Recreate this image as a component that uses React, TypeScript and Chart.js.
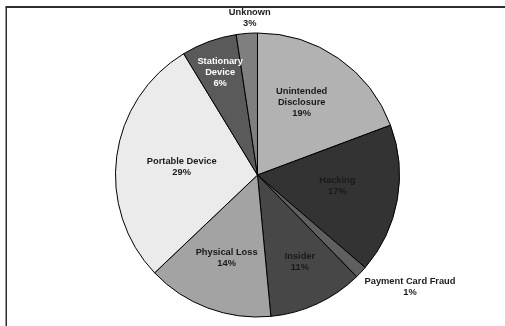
import React, { useEffect, useRef } from "react";
import { Chart, registerables } from "chart.js";

Chart.register(...registerables);

const categories = [
  "Unintended Disclosure",
  "Hacking",
  "Payment Card Fraud",
  "Insider",
  "Physical Loss",
  "Portable Device",
  "Stationary Device",
  "Unknown",
];
const labelLines = [
  ["Unintended", "Disclosure"],
  ["Hacking"],
  ["Payment Card Fraud"],
  ["Insider"],
  ["Physical Loss"],
  ["Portable Device"],
  ["Stationary", "Device"],
  ["Unknown"],
];
const shares = [19.3, 17.0, 1.4, 10.8, 14.4, 28.4, 6.3, 2.4];
const percentLabels = ["19%", "17%", "1%", "11%", "14%", "29%", "6%", "3%"];
const colors = ["#b2b2b2", "#333333", "#5f5f5f", "#474747", "#a3a3a3", "#ebebeb", "#5a5a5a", "#7f7f7f"];
const textColors = ["#1a1a1a", "#1a1a1a", "#1a1a1a", "#1a1a1a", "#1a1a1a", "#1a1a1a", "#ffffff", "#1a1a1a"];

// label placement style: radius factor and pixel nudge
const labelPlace = [
  { r: 0.62, dx: -6, dy: 0 },
  { r: 0.6, dx: -4, dy: -4 },
  { r: 1.0, dx: 49, dy: 15 },
  { r: 0.66, dx: 3, dy: 2 },
  { r: 0.62, dx: 0, dy: 0 },
  { r: 0.56, dx: 3, dy: 2 },
  { r: 0.77, dx: 0, dy: 0 },
  { r: 1.1, dx: 4, dy: -1 },
];

const framePlugin = {
  id: "frame",
  beforeDraw(chart: any) {
    const ctx = chart.ctx;
    ctx.save();
    ctx.strokeStyle = "#2e2e2e";
    ctx.lineWidth = 2;
    ctx.beginPath();
    ctx.moveTo(5.5, 7);
    ctx.lineTo(505, 7);
    ctx.stroke();
    ctx.lineWidth = 1.5;
    ctx.beginPath();
    ctx.moveTo(6.25, 7);
    ctx.lineTo(6.25, 326);
    ctx.stroke();
    ctx.restore();
  },
};

const labelPlugin = {
  id: "sliceLabels",
  afterDatasetsDraw(chart: any) {
    const ctx = chart.ctx;
    const meta = chart.getDatasetMeta(0);
    ctx.save();
    ctx.font = "bold 9.3px 'Liberation Sans', Arial, sans-serif";
    ctx.textAlign = "center";
    ctx.textBaseline = "middle";
    meta.data.forEach((arc: any, i: number) => {
      const p = arc.getProps(["x", "y", "startAngle", "endAngle", "outerRadius"], true);
      const mid = (p.startAngle + p.endAngle) / 2;
      const place = labelPlace[i];
      const cx = p.x + Math.cos(mid) * p.outerRadius * place.r + place.dx;
      const cy = p.y + Math.sin(mid) * p.outerRadius * place.r + place.dy;
      const lines = [...labelLines[i], percentLabels[i]];
      const lh = 11;
      const top = cy - ((lines.length - 1) * lh) / 2;
      ctx.fillStyle = textColors[i];
      lines.forEach((t, k) => ctx.fillText(t, cx, top + k * lh));
    });
    ctx.restore();
  },
};

export default function App() {
  const ref = useRef<HTMLCanvasElement | null>(null);
  useEffect(() => {
    document.body.style.margin = "0";
    const chart = new Chart(ref.current!, {
      type: "pie",
      data: {
        labels: categories,
        datasets: [
          {
            data: shares,
            backgroundColor: colors,
            borderColor: "#000000",
            borderWidth: 1,
          },
        ],
      },
      options: {
        responsive: false,
        animation: false,
        layout: { padding: { left: 115, right: 105, top: 32, bottom: 8 } },
        plugins: {
          legend: { display: false },
          tooltip: { enabled: false },
        },
      },
      plugins: [framePlugin, labelPlugin],
    });
    return () => chart.destroy();
  }, []);
  return (
    <div style={{ position: "fixed", left: 0, top: 0, width: 505, height: 326, background: "#fff" }}>
      <canvas ref={ref} width={505} height={326} style={{ display: "block" }} />
    </div>
  );
}
